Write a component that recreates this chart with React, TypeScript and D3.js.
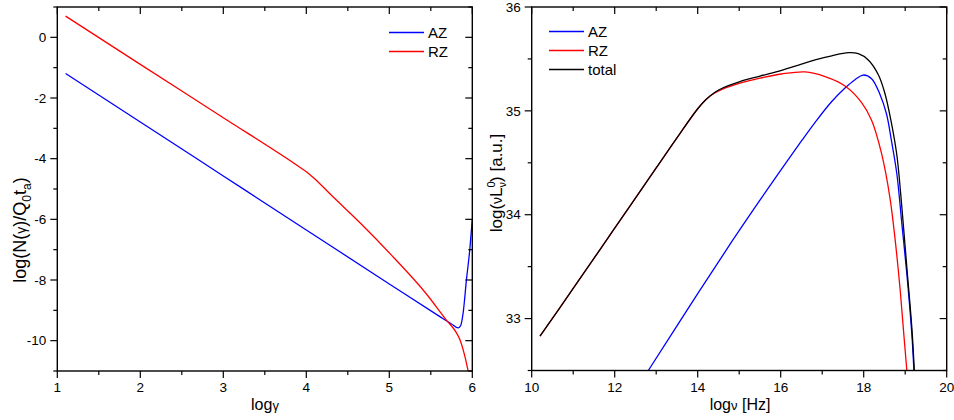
import React from 'react';
import * as d3 from 'd3';

type Pt = [number, number];

// ---- Left panel data: log N(gamma) ----
const leftAZ: Pt[] = [
  [1.1, -1.19], [2, -2.79], [3, -4.57], [4, -6.35], [5, -8.13], [5.6, -9.19],
  [5.75, -9.45], [5.83, -9.58], [5.86, -9.5], [5.89, -9.08], [5.93, -7.98],
  [5.97, -6.99], [6.0, -6.0],
];
const leftRZ: Pt[] = [
  [1.1, 0.7], [2, -0.89], [3, -2.65], [3.9, -4.24], [4.0, -4.43], [4.1, -4.66],
  [4.3, -5.2], [4.65, -6.12], [5.05, -7.25], [5.45, -8.47], [5.69, -9.33],
  [5.8, -9.7], [5.85, -9.96], [5.91, -10.51], [5.95, -11.0],
];
const leftXTicks = [1, 2, 3, 4, 5, 6];
const leftXMinor = [1.5, 2.5, 3.5, 4.5, 5.5];
const leftYTicks = [0, -2, -4, -6, -8, -10];
const leftYMinor = [1, -1, -3, -5, -7, -9, -11];

// ---- Right panel data: log nu L_nu ----
const rightAZ: Pt[] = [
  [12.81, 32.5], [14.0, 33.24], [14.82, 33.74], [15.5, 34.14], [16.02, 34.44],
  [16.5, 34.71], [16.83, 34.89], [17.23, 35.09], [17.55, 35.22], [17.79, 35.3],
  [17.99, 35.345], [18.19, 35.31], [18.39, 35.16], [18.55, 34.97], [18.67, 34.71],
  [18.8, 34.39], [18.92, 33.91], [19.04, 33.43], [19.16, 32.85], [19.21, 32.5],
];
const rightRZ: Pt[] = [
  [10.2, 32.83], [11, 33.29], [12, 33.87], [13, 34.45], [13.5, 34.74], [14.0, 35.02],
  [14.2, 35.11], [14.4, 35.17], [14.6, 35.21], [15.0, 35.265], [15.5, 35.315],
  [16.02, 35.355], [16.59, 35.375], [17.07, 35.33], [17.55, 35.24], [17.95, 35.08],
  [18.19, 34.91], [18.43, 34.59], [18.63, 34.17], [18.76, 33.75], [18.88, 33.27],
  [18.96, 32.88], [19.04, 32.5],
];
const rightTotal: Pt[] = [
  [10.2, 32.83], [11, 33.29], [12, 33.87], [13, 34.45], [13.5, 34.74], [14.0, 35.02],
  [14.2, 35.11], [14.4, 35.175], [14.6, 35.22], [15.0, 35.28], [15.5, 35.335],
  [16.02, 35.39], [16.5, 35.45], [16.83, 35.49], [17.23, 35.53], [17.63, 35.56],
  [17.87, 35.55], [18.11, 35.49], [18.35, 35.35], [18.51, 35.17], [18.67, 34.88],
  [18.8, 34.57], [18.92, 34.07], [19.04, 33.49], [19.16, 32.91], [19.22, 32.5],
];
const rightXTicks = [10, 12, 14, 16, 18, 20];
const rightXMinor = [11, 13, 15, 17, 19];
const rightYTicks = [33, 34, 35, 36];
const rightYMinor = [32.5, 33.5, 34.5, 35.5];

const FONT = '"Liberation Sans", Arial, sans-serif';
const BLUE = '#0000ff';
const RED = '#ff0000';
const BLACK = '#000000';

interface Series { data: Pt[]; color: string; name: string }

interface PanelProps {
  id: string;
  x0: number; x1: number; y0: number; y1: number;
  xDomain: [number, number]; yDomain: [number, number];
  xTicks: number[]; xMinor: number[]; yTicks: number[]; yMinor: number[];
  series: Series[];
  legendX: number; legendY: number;
  curve: d3.CurveFactory;
}

function Panel(p: PanelProps) {
  const xs = d3.scaleLinear().domain(p.xDomain).range([p.x0, p.x1]);
  const ys = d3.scaleLinear().domain(p.yDomain).range([p.y1, p.y0]);
  const line = d3.line<Pt>().x(d => xs(d[0])).y(d => ys(d[1])).curve(p.curve);
  const MAJ = 7, MIN = 4;
  const tk = { stroke: '#000', strokeWidth: 1.2 };
  return (
    <g>
      <defs>
        <clipPath id={p.id}>
          <rect x={p.x0} y={p.y0} width={p.x1 - p.x0} height={p.y1 - p.y0} />
        </clipPath>
      </defs>
      <g clipPath={`url(#${p.id})`}>
        {p.series.map(s => (
          <path key={s.name} d={line(s.data) || ''} fill="none" stroke={s.color} strokeWidth={1.3} />
        ))}
      </g>
      <rect x={p.x0} y={p.y0} width={p.x1 - p.x0} height={p.y1 - p.y0} fill="none" stroke="#000" strokeWidth={1.4} />
      {p.xTicks.map(t => (
        <g key={'xt' + t}>
          <line x1={xs(t)} x2={xs(t)} y1={p.y1} y2={p.y1 + MAJ} {...tk} />
          <line x1={xs(t)} x2={xs(t)} y1={p.y0} y2={p.y0 + MAJ} {...tk} />
          <text x={xs(t)} y={p.y1 + 21} textAnchor="middle" fontSize={13.5} fontFamily={FONT}>{t}</text>
        </g>
      ))}
      {p.xMinor.map(t => (
        <g key={'xm' + t}>
          <line x1={xs(t)} x2={xs(t)} y1={p.y1} y2={p.y1 + MIN} {...tk} />
          <line x1={xs(t)} x2={xs(t)} y1={p.y0} y2={p.y0 + MIN} {...tk} />
        </g>
      ))}
      {p.yTicks.map(t => (
        <g key={'yt' + t}>
          <line x1={p.x0} x2={p.x0 - MAJ} y1={ys(t)} y2={ys(t)} {...tk} />
          <line x1={p.x1} x2={p.x1 - MAJ} y1={ys(t)} y2={ys(t)} {...tk} />
          <text x={p.x0 - 11} y={ys(t) + 4.7} textAnchor="end" fontSize={13.5} fontFamily={FONT}>{t}</text>
        </g>
      ))}
      {p.yMinor.map(t => (
        <g key={'ym' + t}>
          <line x1={p.x0} x2={p.x0 - MIN} y1={ys(t)} y2={ys(t)} {...tk} />
          <line x1={p.x1} x2={p.x1 - MIN} y1={ys(t)} y2={ys(t)} {...tk} />
        </g>
      ))}
      {p.series.map((s, i) => (
        <g key={'lg' + s.name}>
          <line x1={p.legendX} x2={p.legendX + 35} y1={p.legendY + i * 19} y2={p.legendY + i * 19}
            stroke={s.color} strokeWidth={1.3} />
          <text x={p.legendX + 39} y={p.legendY + i * 19 + 5.5} fontSize={15} fontFamily={FONT}>{s.name}</text>
        </g>
      ))}
    </g>
  );
}

export default function App() {
  return (
    <svg width={954} height={420} style={{ position: 'absolute', left: 0, top: 0, background: '#fff' }}
      fontFamily={FONT}>
      <rect x={0} y={0} width={954} height={420} fill="#fff" />
      <Panel id="clipL" x0={57.3} x1={472.3} y0={7} y1={371}
        xDomain={[1, 6]} yDomain={[-11, 1]}
        xTicks={leftXTicks} xMinor={leftXMinor} yTicks={leftYTicks} yMinor={leftYMinor}
        series={[{ data: leftAZ, color: BLUE, name: 'AZ' }, { data: leftRZ, color: RED, name: 'RZ' }]}
        legendX={389} legendY={32.5} curve={d3.curveMonotoneX} />
      <Panel id="clipR" x0={531.7} x1={946.7} y0={7} y1={370.5}
        xDomain={[10, 20]} yDomain={[32.5, 36]}
        xTicks={rightXTicks} xMinor={rightXMinor} yTicks={rightYTicks} yMinor={rightYMinor}
        series={[
          { data: rightAZ, color: BLUE, name: 'AZ' },
          { data: rightRZ, color: RED, name: 'RZ' },
          { data: rightTotal, color: BLACK, name: 'total' },
        ]}
        legendX={549} legendY={31.5} curve={d3.curveCatmullRom.alpha(0.5)} />
      {/* axis titles */}
      <text x={265} y={410} textAnchor="middle" fontSize={16}>log<tspan fontSize={13}>γ</tspan></text>
      <text x={740} y={410} textAnchor="middle" fontSize={16}>log<tspan fontSize={13}>ν</tspan> [Hz]</text>
      <text transform="translate(26,230) rotate(-90)" textAnchor="middle" fontSize={18}>
        log(N(<tspan fontSize={14}>γ</tspan>)/Q<tspan fontSize={12} dy={5}>0</tspan><tspan dy={-5}>t</tspan><tspan fontSize={12} dy={5}>a</tspan><tspan dy={-5}>)</tspan>
      </text>
      <text transform="translate(502,183) rotate(-90)" textAnchor="middle" fontSize={17}>
        log(<tspan fontSize={14}>ν</tspan>L<tspan fontSize={11} dy={-7}>0</tspan><tspan fontSize={11} dx={-6.1} dy={11}>ν</tspan><tspan dy={-4}>) [a.u.]</tspan>
      </text>
    </svg>
  );
}
